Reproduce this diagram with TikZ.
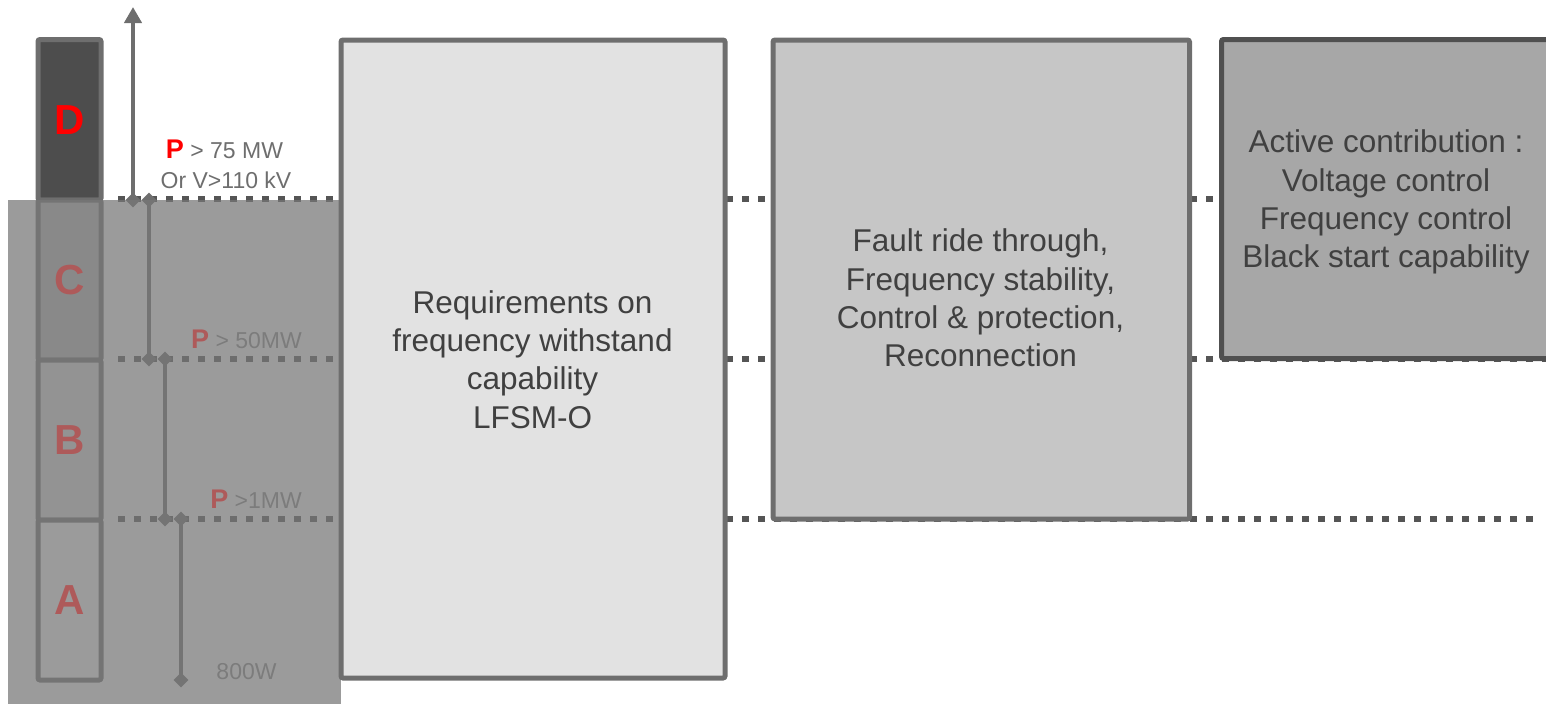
\documentclass[tikz,border=0pt]{standalone}
\usepackage{fontspec}
\setmainfont{Liberation Sans}
\usetikzlibrary{arrows.meta,shapes.geometric}
\definecolor{cellborder}{HTML}{6E6E6E}
\definecolor{cellD}{HTML}{4D4D4D}
\definecolor{cellC}{HTML}{BEBEBE}
\definecolor{cellB}{HTML}{E0E0E0}
\definecolor{dotc}{HTML}{555555}
\definecolor{vcol}{HTML}{6E6E6E}
\definecolor{veilc}{HTML}{777777}
\definecolor{boxA}{HTML}{E2E2E2}
\definecolor{boxB}{HTML}{C6C6C6}
\definecolor{boxC}{HTML}{A7A7A7}
\definecolor{borderA}{HTML}{6E6E6E}
\definecolor{borderC}{HTML}{505050}
\definecolor{txt}{HTML}{404040}
\definecolor{labtxt}{HTML}{6E6E6E}
\definecolor{labgray}{HTML}{7C7C7C}
\definecolor{mutedred}{HTML}{AE5A5A}
\begin{document}
\begin{tikzpicture}[x=1pt,y=-1pt,
  cell/.style={draw=cellborder, line width=5pt, rounded corners=2pt, minimum width=63pt, inner sep=0pt},
  dotline/.style={draw=dotc, line width=6.5pt, dash pattern=on 6.5pt off 9.5pt},
  vline/.style={draw=vcol, line width=4pt},
  dia/.style={shape=diamond, fill=vcol, draw=none, inner sep=0pt, minimum width=15pt, minimum height=15pt},
  bigbox/.style={line width=5pt, rounded corners=2pt, inner sep=0pt},
  bigtext/.style={align=center, text=txt, inner sep=0pt, font=\fontsize{31.5}{38.3}\selectfont},
  letter/.style={inner sep=0pt, font=\fontsize{42}{46}\selectfont\bfseries},
  lab/.style={inner sep=0pt, font=\fontsize{23}{27}\selectfont},
  bigP/.style={}
]
\useasboundingbox (0,0) rectangle (1546,704);
\clip (0,0) rectangle (1546,704);

% category column
\node[cell, fill=cellD, minimum height=160.5pt] (cD) at (69.5,119.75) {};
\node[cell, fill=cellC, minimum height=160pt] (cC) at (69.5,280) {};
\node[cell, fill=cellB, minimum height=160pt] (cB) at (69.5,440) {};
\node[cell, fill=white, minimum height=160pt] (cA) at (69.5,600) {};

% dotted level lines
\coordinate (l1s) at (118,199); \coordinate (l1e) at (1222,199);
\coordinate (l2s) at (118,359); \coordinate (l2e) at (1560,359);
\coordinate (l3s) at (118,519); \coordinate (l3e) at (1533,519);
\draw[dotline] (l1s) -- (l1e);
\draw[dotline] (l2s) -- (l2e);
\draw[dotline] (l3s) -- (l3e);

% range markers
\node[dia] (a0) at (133,200) {};
\coordinate (atop) at (133,7);
\node[dia] (b0) at (149,200) {};
\node[dia] (b1) at (149,359) {};
\node[dia] (c0) at (165,359) {};
\node[dia] (c1) at (165,519) {};
\node[dia] (d0) at (181,519) {};
\node[dia] (d1) at (181,680) {};
\draw[vline, -{Triangle[width=17pt,length=16pt]}] (a0.center) -- (atop);
\draw[vline] (b0.center) -- (b1.center);
\draw[vline] (c0.center) -- (c1.center);
\draw[vline] (d0.center) -- (d1.center);

% gray veil over the lower categories
\fill[veilc, fill opacity=0.735] (8,200) rectangle (341,704);

% requirement boxes
\node[bigbox, draw=borderA, fill=boxA, minimum width=384pt, minimum height=638pt] (box1) at (533,359) {};
\node[bigbox, draw=borderA, fill=boxB, minimum width=416.5pt, minimum height=479pt] (box2) at (981.25,279.5) {};
\node[bigbox, draw=borderC, fill=boxC, minimum width=348.5pt, minimum height=319pt] (box3) at (1395.75,199) {};

\node[bigtext] (t1) at (532.5,359.5) {Requirements on\\frequency withstand\\capability\\LFSM-O};
\node[bigtext] (t2) at (980.5,298) {Fault ride through,\\Frequency stability,\\Control \& protection,\\Reconnection};
\node[bigtext] (t3) at (1386,202.3) {Active contribution :\\Voltage control\\Frequency control\\Black start capability};

% category letters
\node[letter, text=red] (lD) at (cD.center) {D};
\node[letter, text=mutedred] (lC) at (cC.center) {C};
\node[letter, text=mutedred] (lB) at (cB.center) {B};
\node[letter, text=mutedred] (lA) at (cA.center) {A};

% threshold labels
\node[lab, anchor=base, text=labtxt] (p75) at (224.5,158) {{\fontsize{27}{30}\selectfont\bfseries\textcolor{red}{P}} > 75 MW};
\node[lab, anchor=base, text=labtxt] (v110) at (226,188) {Or V>110 kV};
\node[lab, anchor=base east, text=labgray] (p50) at (302,348) {{\fontsize{27}{30}\selectfont\bfseries\textcolor{mutedred}{P}} > 50MW};
\node[lab, anchor=base east, text=labgray] (p1) at (302,508) {{\fontsize{27}{30}\selectfont\bfseries\textcolor{mutedred}{P}} >1MW};
\node[lab, anchor=base, text=labgray] (w800) at (246.5,679) {800W};
\end{tikzpicture}
\end{document}
